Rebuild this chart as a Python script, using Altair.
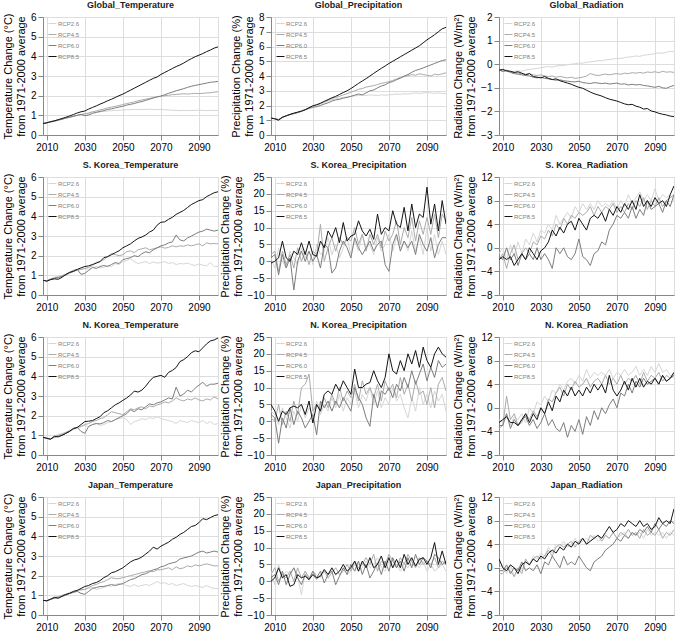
import altair as alt
import pandas as pd

# Years sampled every two years across the projection period
YEARS = list(range(2008, 2101, 2))
SCENARIOS = ["RCP2.6", "RCP4.5", "RCP6.0", "RCP8.5"]
LINE_COLORS = ["#d6d6d6", "#ababab", "#7d7d7d", "#141414"]
LINE_WIDTHS = [1.0, 1.0, 1.3, 2.5]
X_TICKS = [2010, 2030, 2050, 2070, 2090]
FONT = "Liberation Sans"

TEMP_TITLE = ["Temperature Change (°C)", "from 1971-2000 average"]
PREC_TITLE = ["Precipitation Change (%)", "from 1971-2000 average"]
RAD_TITLE = ["Radiation Change (W/m²)", "from 1971-2000 average"]

# ---------------- Global ----------------
global_temp = {
    "RCP2.6": [0.58, 0.62, 0.67, 0.72, 0.77, 0.82, 0.87, 0.92, 0.96, 1.00,
               1.04, 1.06, 1.10, 1.13, 1.15, 1.18, 1.20, 1.22, 1.24, 1.25,
               1.26, 1.27, 1.28, 1.29, 1.30, 1.30, 1.29, 1.30, 1.31, 1.30,
               1.29, 1.30, 1.28, 1.27, 1.26, 1.25, 1.24, 1.25, 1.24, 1.25,
               1.25, 1.26, 1.25, 1.24, 1.25, 1.25, 1.25],
    "RCP4.5": [0.58, 0.62, 0.67, 0.72, 0.76, 0.81, 0.86, 0.90, 0.95, 1.00,
               1.04, 1.08, 1.12, 1.18, 1.22, 1.28, 1.32, 1.38, 1.42, 1.46,
               1.50, 1.55, 1.60, 1.64, 1.68, 1.74, 1.78, 1.82, 1.86, 1.90,
               1.94, 1.97, 2.00, 2.02, 2.05, 2.06, 2.08, 2.10, 2.08, 2.10,
               2.12, 2.10, 2.12, 2.14, 2.15, 2.18, 2.20],
    "RCP6.0": [0.58, 0.62, 0.66, 0.70, 0.75, 0.80, 0.86, 0.90, 0.95, 1.00,
               1.05, 0.98, 1.02, 1.10, 1.15, 1.20, 1.24, 1.30, 1.33, 1.38,
               1.42, 1.46, 1.52, 1.56, 1.60, 1.66, 1.70, 1.76, 1.82, 1.88,
               1.94, 1.98, 2.05, 2.12, 2.18, 2.25, 2.30, 2.36, 2.42, 2.48,
               2.52, 2.56, 2.60, 2.64, 2.68, 2.70, 2.72],
    "RCP8.5": [0.58, 0.62, 0.68, 0.72, 0.78, 0.84, 0.90, 0.97, 1.04, 1.12,
               1.18, 1.22, 1.32, 1.40, 1.48, 1.57, 1.65, 1.74, 1.82, 1.91,
               2.00, 2.08, 2.18, 2.28, 2.38, 2.48, 2.58, 2.68, 2.78, 2.88,
               2.95, 3.08, 3.18, 3.28, 3.38, 3.48, 3.56, 3.66, 3.78, 3.88,
               3.98, 4.06, 4.14, 4.24, 4.32, 4.42, 4.48],
}

global_prec = {
    "RCP2.6": [1.15, 1.10, 1.05, 1.22, 1.30, 1.40, 1.48, 1.55, 1.62, 1.72,
               1.82, 1.90, 2.00, 2.10, 2.22, 2.30, 2.40, 2.45, 2.50, 2.55,
               2.58, 2.62, 2.65, 2.68, 2.70, 2.68, 2.72, 2.70, 2.68, 2.72,
               2.70, 2.72, 2.75, 2.78, 2.76, 2.80, 2.78, 2.82, 2.85, 2.82,
               2.85, 2.88, 2.85, 2.82, 2.85, 2.82, 2.80],
    "RCP4.5": [1.15, 1.10, 1.05, 1.20, 1.30, 1.38, 1.45, 1.52, 1.62, 1.72,
               1.85, 1.95, 2.05, 2.15, 2.25, 2.35, 2.48, 2.55, 2.62, 2.72,
               2.80, 2.90, 3.00, 3.10, 3.15, 3.25, 3.30, 3.35, 3.42, 3.50,
               3.55, 3.62, 3.70, 3.80, 3.90, 3.95, 4.02, 4.10, 4.05, 4.15,
               4.10, 4.05, 4.00, 4.12, 4.08, 4.15, 4.22],
    "RCP6.0": [1.15, 1.10, 1.05, 1.20, 1.30, 1.38, 1.45, 1.52, 1.60, 1.70,
               1.80, 1.88, 1.92, 2.00, 2.10, 2.18, 2.30, 2.38, 2.42, 2.50,
               2.55, 2.62, 2.70, 2.78, 2.72, 2.85, 3.00, 3.05, 3.20, 3.32,
               3.40, 3.55, 3.62, 3.75, 3.85, 4.00, 4.10, 4.25, 4.38, 4.45,
               4.55, 4.65, 4.75, 4.85, 4.95, 5.05, 5.10],
    "RCP8.5": [1.15, 1.10, 1.00, 1.20, 1.30, 1.40, 1.48, 1.55, 1.62, 1.72,
               1.85, 1.98, 2.05, 2.15, 2.28, 2.40, 2.52, 2.62, 2.75, 2.88,
               3.00, 3.15, 3.32, 3.50, 3.66, 3.82, 4.00, 4.18, 4.35, 4.52,
               4.68, 4.85, 5.00, 5.15, 5.30, 5.45, 5.60, 5.75, 5.90, 6.05,
               6.25, 6.45, 6.62, 6.80, 7.00, 7.20, 7.30],
}

global_rad = {
    "RCP2.6": [-0.25, -0.28, -0.30, -0.32, -0.30, -0.28, -0.30, -0.25, -0.22, -0.20,
               -0.18, -0.15, -0.12, -0.10, -0.12, -0.08, -0.05, -0.06, -0.02, 0.00,
               0.02, 0.05, 0.04, 0.08, 0.10, 0.12, 0.15, 0.14, 0.18, 0.20,
               0.22, 0.25, 0.24, 0.28, 0.30, 0.32, 0.35, 0.33, 0.38, 0.40,
               0.42, 0.45, 0.48, 0.46, 0.50, 0.55, 0.52],
    "RCP4.5": [-0.25, -0.30, -0.25, -0.32, -0.35, -0.38, -0.40, -0.42, -0.40, -0.45,
               -0.48, -0.45, -0.50, -0.52, -0.50, -0.55, -0.52, -0.55, -0.58, -0.55,
               -0.60, -0.58, -0.55, -0.50, -0.40, -0.45, -0.48, -0.45, -0.42, -0.45,
               -0.42, -0.40, -0.43, -0.38, -0.40, -0.36, -0.38, -0.35, -0.38, -0.33,
               -0.35, -0.32, -0.36, -0.30, -0.34, -0.32, -0.35],
    "RCP6.0": [-0.25, -0.30, -0.28, -0.35, -0.40, -0.42, -0.45, -0.48, -0.50, -0.55,
               -0.58, -0.55, -0.60, -0.62, -0.65, -0.68, -0.66, -0.70, -0.72, -0.74,
               -0.75, -0.72, -0.78, -0.80, -0.82, -0.78, -0.80, -0.82, -0.80, -0.84,
               -0.82, -0.80, -0.85, -0.83, -0.88, -0.85, -0.88, -0.86, -0.90, -0.92,
               -0.95, -0.98, -0.94, -1.00, -1.02, -0.95, -0.90],
    "RCP8.5": [-0.25, -0.22, -0.28, -0.30, -0.35, -0.32, -0.38, -0.45, -0.40, -0.52,
               -0.55, -0.58, -0.52, -0.60, -0.65, -0.62, -0.70, -0.75, -0.80, -0.85,
               -0.92, -0.98, -1.02, -1.10, -1.18, -1.25, -1.30, -1.35, -1.42, -1.48,
               -1.52, -1.56, -1.62, -1.68, -1.72, -1.70, -1.78, -1.82, -1.90, -1.88,
               -1.98, -2.02, -2.08, -2.12, -2.15, -2.20, -2.22],
}

# ---------------- South Korea ----------------
skorea_temp = {
    "RCP2.6": [0.75, 0.72, 0.82, 0.90, 0.95, 1.00, 1.05, 1.15, 1.20, 1.25,
               1.30, 1.35, 1.30, 1.40, 1.45, 1.38, 1.40, 1.50, 1.45, 1.60,
               1.55, 1.70, 1.75, 1.85, 1.70, 1.60, 1.65, 1.70, 1.60, 1.68,
               1.62, 1.65, 1.70, 1.60, 1.65, 1.55, 1.60, 1.58, 1.62, 1.55,
               1.50, 1.58, 1.52, 1.48, 1.65, 1.45, 1.45],
    "RCP4.5": [0.75, 0.72, 0.80, 0.88, 0.90, 0.98, 1.05, 1.10, 1.20, 1.28,
               1.30, 1.35, 1.40, 1.50, 1.65, 1.70, 1.80, 1.95, 2.10, 2.05,
               2.00, 2.05, 2.20, 2.25, 2.15, 2.30, 2.35, 2.40, 2.30, 2.35,
               2.40, 2.45, 2.38, 2.42, 2.50, 2.45, 2.50, 2.48, 2.55, 2.50,
               2.55, 2.60, 2.50, 2.65, 2.60, 2.62, 2.60],
    "RCP6.0": [0.75, 0.72, 0.80, 0.85, 0.88, 0.95, 1.00, 1.15, 1.25, 1.30,
               1.05, 1.10, 1.25, 1.40, 1.35, 1.45, 1.50, 1.45, 1.55, 1.65,
               1.60, 1.80, 1.85, 1.90, 2.00, 1.95, 2.10, 2.20, 2.15, 2.30,
               2.40, 2.50, 2.55, 2.65, 2.70, 3.05, 2.80, 2.75, 2.90, 3.00,
               3.10, 3.20, 3.25, 3.35, 3.30, 3.25, 3.30],
    "RCP8.5": [0.75, 0.70, 0.78, 0.82, 0.80, 0.90, 1.05, 1.15, 1.20, 1.30,
               1.38, 1.45, 1.48, 1.55, 1.62, 1.70, 1.90, 1.95, 2.05, 2.15,
               2.25, 2.40, 2.50, 2.60, 2.75, 2.88, 2.95, 3.05, 3.20, 3.30,
               3.55, 3.70, 3.72, 3.85, 3.95, 4.10, 4.20, 4.30, 4.45, 4.60,
               4.70, 4.80, 4.85, 5.00, 5.10, 5.20, 5.25],
}

skorea_prec = {
    "RCP2.6": [1, -2, 4, 0, -2, 3, 1, -1, 4, 1,
               3, -1, 5, 2, 3, 7, 2, 5, 1, 4,
               7, 2, 6, 3, 8, 4, 5, 2, 7, 3,
               5, 8, 3, 7, 4, 6, 3, 9, 3, 7,
               2, 10, 3, 8, 2, 6, 2],
    "RCP4.5": [2, 3, -3, 3, -1, 2, -2, 4, 0, 3,
               -1, 3, 2, 11, 0, 4, 7, 3, 7, 5,
               7, 6, 10, 5, 8, 3, 8, 5, 8, 4,
               9, 6, 8, 12, 5, 10, 7, 13, 6, 12,
               8, 13, 8, 14, 7, 14, 12],
    "RCP6.0": [1, 2, -4, 2, -2, 1, -8.5, 0, 3, 0,
               3, 0, 2, -2, 5, 4, -3.5, -2, 3, 6,
               4, 1, 7, 4, 2, 4, 6, 3, 5, 6,
               -1, -3, 5, 8, 3, 6, 4, 6, 2, 8,
               5, 3, 7, 1, 5, 7, 7],
    "RCP8.5": [-0.5, 0, 1, 6, 1, 0, 3, 2, 5.5, 2,
               6, 2, 1.5, 6, 4, 9, 7, 10, 5.5, 11.5,
               6, 7.5, 8, 12, 9, 7.5, 9.5, 6.5, 14, 8,
               10, 9, 15, 11, 10, 16, 9, 17, 10, 14,
               13, 22, 11, 17, 9, 18, 11],
}

skorea_rad = {
    "RCP2.6": [-1, 0, -2, 0.5, -1.5, 1, -1, 1.5, 0.5, 2.5,
               1, 3, 2.5, 4, 3, 5.5, 4, 5, 6, 5,
               7, 6, 7.5, 6.5, 7.5, 6.5, 8, 7, 7.5, 7,
               8, 6.5, 8, 7, 9, 7.5, 8.5, 9.5, 8, 9,
               8, 10, 8, 9, 8.5, 9, 8],
    "RCP4.5": [-2, -1, -3.5, -1, 0.5, -2, -1, 0, -1, 1,
               0.5, 2, 1.5, 3, 2, 4, 3, 5, 4, 5.5,
               5, 6, 5.5, 6, 7, 5.5, 7, 6, 7, 6.5,
               7.5, 6, 7, 6, 7.5, 6.5, 8, 7, 8.5, 6.5,
               8, 7, 8.5, 7, 8, 8.5, 9],
    "RCP6.0": [-1.5, -2, 0, -2, -1, -3, -1, -2, -1, -2,
               0, -2, -1, -2, -3.5, 0, -1, 0, -1.5, -2,
               -1, 1.5, -1.5, -2, -3, -1, -0.5, 1, 0.5, 3,
               4, 5.5, 5, 6, 5, 7, 5, 6.5, 5.5, 8,
               6.5, 7, 7.5, 6, 8, 7, 9],
    "RCP8.5": [-2, -1.5, -2, -1.5, -3, -2, -1, -2, 0, -1,
               -2, -0.5, 0, 1, 3, 2, 3.5, 2.5, 4, 4.5,
               3, 5, 4, 3, 5, 5.5, 5, 6, 4.5, 6.5,
               5.5, 7, 6, 7.5, 6.5, 8, 6.5, 9, 7, 8,
               7, 8.5, 7.5, 8, 7, 9, 10.5],
}

# ---------------- North Korea ----------------
nkorea_temp = {
    "RCP2.6": [0.90, 0.85, 0.85, 0.95, 1.05, 1.10, 1.15, 1.25, 1.30, 1.40,
               1.45, 1.50, 1.45, 1.55, 1.60, 1.50, 1.55, 1.65, 1.70, 1.80,
               1.85, 1.90, 1.80, 1.55, 1.70, 1.75, 1.85, 1.80, 1.90, 1.85,
               1.95, 1.85, 1.80, 1.75, 1.70, 1.60, 1.75, 1.70, 1.65, 1.75,
               1.70, 1.65, 1.75, 1.60, 1.70, 1.55, 1.60],
    "RCP4.5": [0.90, 0.85, 0.80, 0.95, 1.00, 1.05, 1.15, 1.25, 1.30, 1.40,
               1.45, 1.55, 1.60, 1.70, 1.75, 1.85, 1.90, 2.05, 2.20, 2.15,
               2.10, 2.05, 2.20, 2.35, 2.30, 2.40, 2.45, 2.35, 2.50, 2.45,
               2.55, 2.60, 2.70, 2.65, 2.75, 2.90, 2.80, 2.75, 2.85, 2.80,
               2.90, 2.80, 2.75, 2.85, 2.80, 2.95, 2.85],
    "RCP6.0": [0.90, 0.85, 0.82, 0.90, 0.95, 1.00, 1.10, 1.20, 1.35, 1.40,
               1.20, 1.10, 1.45, 1.55, 1.60, 1.58, 1.65, 1.75, 1.70, 1.80,
               1.90, 2.00, 2.10, 2.30, 2.20, 2.35, 2.30, 2.45, 2.60, 2.55,
               2.65, 2.70, 2.80, 2.90, 2.85, 3.45, 3.00, 3.10, 3.30, 3.20,
               3.40, 3.55, 3.70, 3.50, 3.60, 3.60, 3.65],
    "RCP8.5": [0.90, 0.85, 0.80, 0.95, 0.92, 1.00, 1.10, 1.20, 1.35, 1.40,
               1.55, 1.70, 1.72, 1.75, 1.85, 1.95, 2.15, 2.25, 2.40, 2.55,
               2.65, 2.78, 2.90, 3.05, 3.25, 3.20, 3.30, 3.50, 3.75, 3.95,
               4.00, 4.05, 3.95, 4.20, 4.30, 4.45, 4.75, 4.85, 5.00, 5.20,
               5.30, 5.25, 5.45, 5.65, 5.80, 5.85, 5.95],
}

nkorea_prec = {
    "RCP2.6": [3, 2, -1, 4, 1, -2, 3, 0, 5, 1,
               4, 2, 6, 2, 5, 3, 7, 4, 8, 3,
               7, 5, 9, 4, 8, 6, 10, 5, 9, 4,
               7, 5, 10, 6, 8, 4, 1, 7, 3, 10,
               5, 8, 4, 9, 6, 8, 3],
    "RCP4.5": [1, 0, 5, -1, 3, 0, 6, 2, 10, 11,
               14, 3, 5, 3, 7, 4, 8, 5, 10, 6,
               9, 7, 11, 6, 12, 8, 10, 7, 11, 6,
               12, 9, 11, 7, 13, 8, 11, 6, 12, 8,
               9, 5, 10, 4, 11, 13, 9],
    "RCP6.0": [2, 1, -6.5, 1, -2, 4, -1, 3, 1, -2,
               0, 2, -4, 6, 4, 6, 3, 6, 4, 7,
               5, 3, 10, 7, 5, 1, -1.5, 8, 4, 9,
               8, 10, 7, 11, 9, 13, 10, 15, 11, 14,
               17, 12, 16, 13, 18, 16, 17],
    "RCP8.5": [5, 3, 0, 3, 2, 4, 4.5, 4, 5, 2,
               6, -0.5, 5, 3, 8, 9, 8, 11, 9, 12,
               10, 8, 15.5, 10, 10, 11, 11.5, 15, 12, 10,
               13, 20, 15, 14, 18, 15, 20, 17, 21, 16,
               22, 18, 16, 20, 22, 20, 19],
}

nkorea_rad = {
    "RCP2.6": [-2, -2.5, -1, -3, -1.5, -2, -1, -2.5, 0, -1,
               1, 0.5, 2, 1, 3, 2.5, 4, 3, 4.5, 5,
               4, 5.5, 4.5, 6.5, 5, 6, 5.5, 6, 5.5, 6.5,
               5, 6, 5.5, 6.5, 5.5, 6, 7, 5.5, 6.5, 5.5,
               7, 6, 7.5, 6, 6.5, 5.5, 5],
    "RCP4.5": [-3.5, -3, 2, -2, -1, -3, -2.5, -1, -2, -0.5,
               -1.5, 0, -1, 1.5, 1, 2.5, 3.5, 2, 4, 3,
               4.5, 3.5, 4, 5, 3.5, 4.5, 5, 4, 5.5, 4,
               5, 4, 5.5, 4, 5, 4.5, 5.5, 4, 6, 4.5,
               5.5, 5, 6, 4.5, 5.5, 5, 6],
    "RCP6.0": [-3, -3, -1, -3.5, -2, -3, -2, -1.5, -3, -2,
               -3.5, -2.5, -1, -3, -2, -3.5, -4, -2.5, -5, -3,
               -4, -2, -4.5, -1.5, -3, -0.5, -2, 0, -1, 0.5,
               1.5, 0, 2.5, 2, 4, 2.5, 4.5, 3.5, 5, 4,
               4.5, 5, 4, 5.5, 4.5, 5, 5.5],
    "RCP8.5": [-2.5, -2, -1.5, -2.5, -2.5, -3, -2, -1, -2.5, -1,
               -2, 0, -1, 1, -0.5, 2, 1, 3, 2, 3.5,
               2, 3, 2, 3.5, 2.5, 4, 3, 4, 2.5, 5.5,
               3, 2, 3, 4.5, 3, 5, 3.5, 5, 3.5, 4.5,
               4, 5, 4, 5.5, 4.5, 5, 6],
}

# ---------------- Japan ----------------
japan_temp = {
    "RCP2.6": [0.75, 0.72, 0.82, 0.90, 0.95, 1.00, 1.05, 1.15, 1.20, 1.25,
               1.25, 1.30, 1.35, 1.40, 1.30, 1.35, 1.40, 1.50, 1.45, 1.55,
               1.60, 1.55, 1.50, 1.45, 1.55, 1.45, 1.50, 1.55, 1.50, 1.60,
               1.70, 1.60, 1.65, 1.55, 1.60, 1.50, 1.55, 1.60, 1.50, 1.45,
               1.50, 1.45, 1.40, 1.50, 1.40, 1.35, 1.35],
    "RCP4.5": [0.75, 0.72, 0.82, 0.88, 0.92, 1.00, 1.05, 1.10, 1.15, 1.25,
               1.30, 1.30, 1.40, 1.50, 1.55, 1.65, 1.70, 1.80, 1.90, 1.85,
               1.85, 1.90, 1.95, 2.00, 2.05, 2.10, 2.15, 2.20, 2.25, 2.20,
               2.30, 2.30, 2.35, 2.40, 2.30, 2.45, 2.35, 2.40, 2.50, 2.45,
               2.55, 2.50, 2.55, 2.60, 2.55, 2.50, 2.50],
    "RCP6.0": [0.75, 0.72, 0.80, 0.85, 0.88, 0.95, 1.00, 1.10, 1.15, 1.20,
               1.10, 1.05, 1.20, 1.35, 1.40, 1.45, 1.45, 1.50, 1.55, 1.50,
               1.55, 1.60, 1.70, 1.80, 1.85, 1.95, 2.05, 2.10, 2.20, 2.30,
               2.35, 2.45, 2.50, 2.60, 2.65, 2.70, 2.85, 2.90, 2.95, 3.00,
               3.10, 3.20, 3.25, 3.15, 3.20, 3.25, 3.20],
    "RCP8.5": [0.75, 0.72, 0.80, 0.90, 0.85, 0.95, 1.05, 1.10, 1.20, 1.25,
               1.35, 1.45, 1.50, 1.60, 1.65, 1.75, 1.90, 2.00, 2.15, 2.20,
               2.30, 2.40, 2.55, 2.70, 2.80, 2.85, 2.95, 3.10, 3.25, 3.45,
               3.35, 3.50, 3.60, 3.70, 3.85, 3.95, 4.10, 4.20, 4.35, 4.50,
               4.55, 4.70, 4.90, 4.85, 4.95, 5.05, 5.10],
}

japan_prec = {
    "RCP2.6": [3, -1, 5, 1, 3, 2, 4, 1.5, -4, 3,
               1, 3, 2, 1, 3, 2, 3.5, 2, 3, 4,
               2, 3, 5, 3, 4, 6, 4, 5, 7, 4,
               3, 6, 4, 5, 3, 5, 4, 6, 5, 4,
               6, 3, 5, 3, 4, 5, 3],
    "RCP4.5": [2, 4, 0, 2, 1, 3, 0, 4, 1, 3,
               1, 2, 0.5, 2, 3, 1, 2.5, 4, 2, 3,
               5, 3, 6, 4, 5, 7, 5, 8, 3, 6,
               5, 8, 6, 4, 7, 5, 8, 6, 4, 7,
               5, 6, 5, 7, 4, 6, 5],
    "RCP6.0": [1, 2, -1, 3, -1, 2, 4, 1, -1, 2,
               0.5, 3, 1, 3, -0.5, 2, 3, -1, 1.5, 4,
               2, 5, 3, 6, 2, 5, 1, 3, 5.5, 2,
               6, 3, 7, 4, 6, 3, 7, 4, 8, 5,
               7, 6, 4, 8, 7, 5, 6],
    "RCP8.5": [0, 1, 4, 1, 2, -1.5, -1, 2, 1, 1.5,
               0.5, 2, 1, 1.5, 3.5, 2, 4, 2, 3, 5,
               3, 4, 6, 3, 6, 4, 7, 4, 5, 7.5,
               4, 7, 4, 6.5, 4, 8, 5, 7, 4.5, 6.5,
               7, 5, 7, 11.5, 5, 9, 5],
}

japan_rad = {
    "RCP2.6": [0, 0.5, -1, 0.5, -1.5, 0, -0.5, 1, 0.5, 2,
               1.5, 2.5, 2, 3.5, 2.5, 4, 3.5, 4.5, 3.5, 4,
               5, 4, 4.5, 5, 4.5, 5.5, 4.5, 5, 5.5, 5,
               6, 5, 5.5, 6, 5, 6, 5.5, 6, 5, 6.5,
               5.5, 6, 5.5, 6, 5, 6, 5.5],
    "RCP4.5": [-1, -1, 0, -0.5, -1.5, 0, -1, 1.5, 0.5, 1.5,
               2, 1.5, 2, 3, 2, 3.5, 4, 3.5, 4, 4.5,
               3.5, 4.5, 5, 4, 5.5, 5, 5.5, 4.5, 5.5, 5,
               6, 5, 6, 5.5, 6.5, 5.5, 6, 5, 6.5, 5.5,
               6, 5.5, 6.5, 5, 6, 5.5, 6.5],
    "RCP6.0": [-0.5, -0.5, 0.5, -1, 0, -0.5, 1, -0.5, 0, -0.5,
               0.5, -1, 1, 0.5, 2, 1, 0, 2, 0.5, 1,
               0.5, 2, 1, 0, -0.5, 1, 1.5, 2, 3, 3.5,
               4, 5, 4.5, 5.5, 5, 6, 5.5, 6.5, 6, 7,
               6, 7.5, 6.5, 7.5, 7, 8, 7.5],
    "RCP8.5": [1.5, 0, -0.5, 0.5, 0, -1, 0.5, 1, 0.5, 1.5,
               1, 2, 1.5, 2.5, 3, 2.5, 3.5, 3, 4, 3.5,
               4.5, 4, 5, 4, 4.5, 5, 5.5, 5, 6, 7,
               6, 6.5, 7.5, 7, 8, 7.5, 7, 8, 7, 7.5,
               6.5, 7, 8.5, 7.5, 8, 7.5, 10],
}

PANELS = [
    ("Global_Temperature", global_temp, TEMP_TITLE, (0, 6), 1),
    ("Global_Precipitation", global_prec, PREC_TITLE, (0, 8), 1),
    ("Global_Radiation", global_rad, RAD_TITLE, (-3, 2), 1),
    ("S. Korea_Temperature", skorea_temp, TEMP_TITLE, (0, 6), 1),
    ("S. Korea_Precipitation", skorea_prec, PREC_TITLE, (-10, 25), 5),
    ("S. Korea_Radiation", skorea_rad, RAD_TITLE, (-8, 12), 4),
    ("N. Korea_Temperature", nkorea_temp, TEMP_TITLE, (0, 6), 1),
    ("N. Korea_Precipitation", nkorea_prec, PREC_TITLE, (-10, 25), 5),
    ("N. Korea_Radiation", nkorea_rad, RAD_TITLE, (-8, 12), 4),
    ("Japan_Temperature", japan_temp, TEMP_TITLE, (0, 6), 1),
    ("Japan_Precipitation", japan_prec, PREC_TITLE, (-10, 25), 5),
    ("Japan_Radiation", japan_rad, RAD_TITLE, (-8, 12), 4),
]


def make_panel(title, series, ytitle, ydomain, ystep):
    records = []
    for name in SCENARIOS:
        vals = series[name]
        assert len(vals) == len(YEARS), (title, name, len(vals))
        for yr, v in zip(YEARS, vals):
            records.append({"year": yr, "scenario": name, "value": v})
    df = pd.DataFrame(records)
    lo, hi = ydomain
    yticks = list(range(lo, hi + 1, ystep))
    legend = alt.Legend(
        title=None, orient="none", legendX=5, legendY=2,
        symbolType="stroke", symbolSize=64, labelFontSize=6,
        labelColor="#808080", labelFont=FONT, rowPadding=3,
        padding=0, labelOffset=1,
    )
    return (
        alt.Chart(
            df,
            title=alt.TitleParams(title, fontSize=9, fontWeight="bold",
                                  font=FONT, offset=2, frame="group",
                                  color="#222222"),
        )
        .mark_line(clip=True)
        .encode(
            x=alt.X("year:Q",
                    scale=alt.Scale(domain=[2008, 2100], nice=False, zero=False),
                    axis=alt.Axis(values=X_TICKS, format="d", title=None)),
            y=alt.Y("value:Q",
                    scale=alt.Scale(domain=[lo, hi], nice=False, zero=False),
                    axis=alt.Axis(values=yticks, title=ytitle,
                                  titleFontWeight="normal")),
            color=alt.Color("scenario:N",
                            scale=alt.Scale(domain=SCENARIOS, range=LINE_COLORS),
                            legend=legend),
            strokeWidth=alt.StrokeWidth("scenario:N",
                                        scale=alt.Scale(domain=SCENARIOS, range=LINE_WIDTHS),
                                        legend=legend),
        )
        .properties(width=175, height=118)
    )


panels = [make_panel(*p) for p in PANELS]

chart = (
    alt.concat(*panels, columns=3, spacing={"row": 42, "column": 53}, bounds="flush")
    .resolve_scale(x="independent", y="independent", color="independent", strokeWidth="independent")
    .properties(padding={"left": 1, "top": 0, "right": 0, "bottom": 0})
    .configure_axis(grid=False, domain=False, ticks=False,
                    labelFont=FONT, labelFontSize=10, labelColor="#333333",
                    titleFont=FONT, titleFontSize=9, titleFontWeight="normal",
                    titleColor="#222222")
    .configure_axisX(labelPadding=11)
    .configure_axisY(labelPadding=2, minExtent=5, maxExtent=5,
                     titlePadding=0, titleLineHeight=15)
    .configure_view(stroke="#9a9a9a", strokeWidth=1)
    .configure(background="white")
)

chart.save("out.html", embed_options={"renderer": "svg", "actions": False})
